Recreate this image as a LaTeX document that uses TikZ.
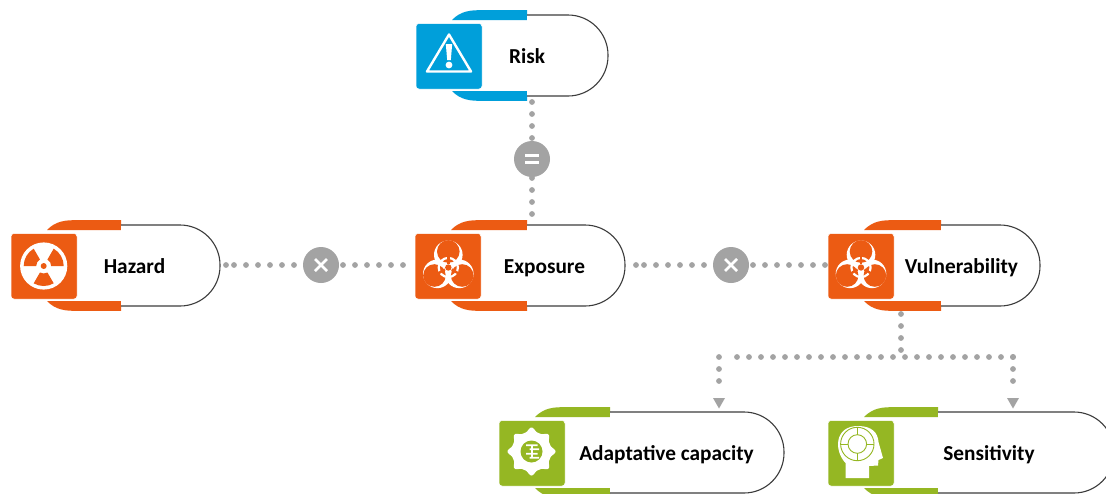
\documentclass[tikz,border=0pt]{standalone}
\usepackage{fontspec}
\setmainfont{Carlito}
\usetikzlibrary{arrows.meta}
\definecolor{cblue}{HTML}{009FDA}
\definecolor{corange}{HTML}{EC5B13}
\definecolor{cgreen}{HTML}{95B723}
\definecolor{cgray}{HTML}{A3A3A3}
\definecolor{cline}{HTML}{3C3C3C}
\tikzset{
  x=1pt,y=1pt,
  pill/.style={draw=cline,line width=1.1pt,fill=white},
  lab/.style={font=\fontsize{21.3}{24}\selectfont\bfseries,text=black,inner sep=0pt,anchor=base},
  anchorbox/.style={inner sep=0pt,outer sep=0pt,minimum width=#1,minimum height=81pt},
  iconbox/.style={rounded corners=3pt,draw=white,line width=.5pt},
  dotline/.style={draw=cgray,line width=5.8pt,line cap=round,dash pattern=on 0pt off 12pt},
  opc/.style={circle,fill=cgray,minimum size=36pt,inner sep=0pt},
  tipbox/.style={fill=cgray,draw=none}
}
\newcommand{\card}[8]{%
  \begin{scope}
  \clip (0,0) rectangle (1106,-493);
  \fill[#2] (#3+36,-#4-5) .. controls (#3+45,-#4+4.5) and (#3+56,-#4+4.8) .. (#3+64,-#4+4.8) -- (#5,-#4+4.8) -- (#5,-#4-5.2) -- cycle;
  \fill[#2] (#3+36,-#4-76) .. controls (#3+45,-#4-85.5) and (#3+56,-#4-85.8) .. (#3+64,-#4-85.8) -- (#5,-#4-85.8) -- (#5,-#4-76) -- cycle;
  \path[pill] (#5,-#4) -- (#6-40,-#4) arc[start angle=90,end angle=0,radius=40pt] -- (#6,-#4-41) arc[start angle=0,end angle=-90,radius=40pt] -- (#5,-#4-81);
  \end{scope}
  \node[anchorbox=#6-#3] (#1) at ({(#3+#6)/2},-#4-40.5) {};
  \fill[#2,iconbox] (#3,-#4-8.5) rectangle (#3+66,-#4-74);
  \node[lab] (#1T) at (#7,-#4-48) {#8};
}
\newcommand{\biohaz}[1]{%
  \foreach \a in {90,210,330} \fill[white] (\a:12.7) circle (14.3);
  \foreach \a in {90,210,330} \fill[#1] (\a:16) circle (11.3);
  \draw[white,line width=2.2pt] (0,0) circle (9.6);
  \foreach \a in {90,210,330} \draw[#1,line width=2.4pt] (\a:4) -- (\a:12);
  \fill[#1] (0,0) circle (3.2);
}
\begin{document}
\begin{tikzpicture}
\useasboundingbox (0,0) rectangle (1106,-493);
\fill[white] (0,0) rectangle (1106,-493);

% operators
\node[opc] (eq) at (532,-159) {};
\node[opc] (m1) at (321,-265) {};
\node[opc] (m2) at (731,-265) {};
\draw[white,line width=2.6pt] (525,-155.5) -- (539,-155.5) (525,-162.5) -- (539,-162.5);
\draw[white,line width=2.6pt] (315,-259) -- (327,-271) (315,-271) -- (327,-259);
\draw[white,line width=2.6pt] (725,-259) -- (737,-271) (725,-271) -- (737,-259);

% named junctions for the dotted connectors
\coordinate (vd) at (901,-351);
\coordinate (al) at (719,-357);
\coordinate (ar) at (1013,-357);
\coordinate (ah) at (730,-357);
\coordinate (h1) at (226,-265);
\coordinate (h2) at (234,-265);
\coordinate (e0) at (403,-265);
\coordinate (e1) at (636,-265);
\coordinate (e2) at (644,-265);
\coordinate (v0) at (826,-265);
\coordinate (m2r) at (753,-265);
\coordinate (r0) at (532,-102);
\coordinate (e3) at (532,-214);
\coordinate (v1) at (901,-314);

% cards
\card{risk}{cblue}{416}{15}{527}{608}{527}{Risk}
\card{hazard}{corange}{11}{225}{121}{220}{134.5}{Hazard}
\card{exposure}{corange}{415}{225}{527}{625}{544.5}{Exposure}
\card{vuln}{corange}{828}{225}{941}{1040}{961.5}{Vulnerability}
\card{adapt}{cgreen}{499}{412}{610}{784}{666.5}{Adaptative capacity}
\card{sens}{cgreen}{828}{412}{938}{1114}{989}{Sensitivity}

% connectors
\draw[dotline] (r0) -- (eq.north);
\draw[dotline] (e3) -- (eq.south);
\draw[dotline] (h1) -- ++(.1,0);
\draw[dotline] (h2) -- (m1.west);
\draw[dotline] (e0) -- (m1.east);
\draw[dotline] (e1) -- ++(.1,0);
\draw[dotline] (e2) -- (m2.west);
\draw[dotline] (m2r) -- (v0);
\draw[dotline] (v1) -- (vd);
\draw[dotline] (ar) -- (ah);
\draw[dotline] (al) -- ++(0,-36);
\draw[dotline] (ar) -- ++(0,-36);
\fill[tipbox] (713,-398) -- (725,-398) -- (719,-408.5) -- cycle;
\fill[tipbox] (1007,-398) -- (1019,-398) -- (1013,-408.5) -- cycle;

% Risk icon
\begin{scope}[shift={(449,-56)}]
  \draw[white,line width=2.4pt,line join=round] (0,21.5) -- (-22,-15.5) -- (22,-15.5) -- cycle;
  \fill[white] (-3.2,12) -- (3.2,12) -- (1.8,-4) -- (-1.8,-4) -- cycle;
  \fill[white] (0,-9) circle (3.4);
\end{scope}

% Hazard icon
\begin{scope}[shift={(43.7,-266)}]
  \fill[white] (0,0) circle (23.6);
  \foreach \a in {30,150,270}
    \fill[corange] (\a-30:7.5) arc[start angle=\a-30,end angle=\a+30,radius=7.5pt] -- (\a+30:20) arc[start angle=\a+30,end angle=\a-30,radius=20pt] -- cycle;
  \fill[corange] (0,0) circle (3);
\end{scope}

% biohazard icons
\begin{scope}[shift={(448.3,-267.5)}]\biohaz{corange}\end{scope}
\begin{scope}[shift={(861,-267.5)}]\biohaz{corange}\end{scope}

% Adaptive capacity icon
\begin{scope}[shift={(531.5,-451.5)}]
  \fill[white,samples=145,domain=0:360] plot (\x:{19.8+4.2*abs(cos(4*\x))^4}) -- cycle;
  \fill[cgreen] (0,0) circle (11);
  \fill[white] (-5.5,7.2) rectangle (6,5.4) (-2,3.2) rectangle (7.5,1.4) (-5.5,-1.4) rectangle (6,-3.2) (-2,-5.4) rectangle (7.5,-7.2);
  \fill[white] (-1,6) rectangle (1,-6);
\end{scope}

% Sensitivity icon
\begin{scope}[shift={(828,-419)}]
  \fill[white] (17.5,-59) -- (17.5,-44) .. controls (6,-32) and (6,-7) .. (30,-7) .. controls (44,-7) and (50,-14) .. (50.5,-23)
    -- (55,-39) -- (50.5,-41) -- (50,-46.5) -- (41,-47) -- (41,-53) -- (41,-59) -- cycle;
  \draw[cgreen,line width=.9pt] (29.3,-25) circle (16.7) (29.3,-25) circle (9.3);
  \draw[cgreen,line width=.9pt] (29.3,-8.3) -- (29.3,-15.7) (29.3,-34.3) -- (29.3,-41.7) (12.6,-25) -- (20,-25) (38.6,-25) -- (46,-25);
\end{scope}
\end{tikzpicture}
\end{document}
